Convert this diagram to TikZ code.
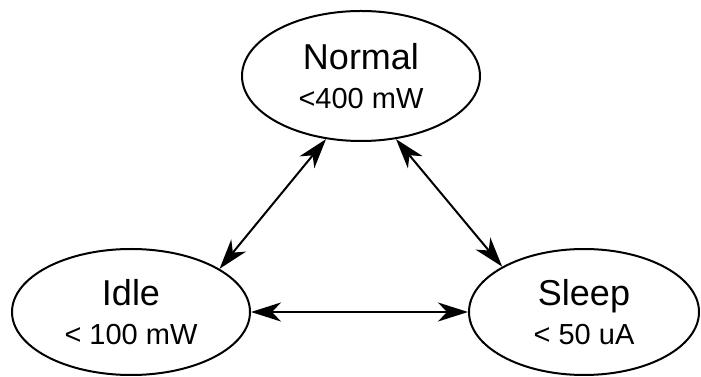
\documentclass[tikz,border=0pt]{standalone}
\usepackage{fontspec}
\setmainfont{Liberation Sans}
\usetikzlibrary{arrows.meta,shapes.geometric}

\newcommand{\modename}[1]{{\fontsize{36}{39}\selectfont #1}}

\begin{document}
\begin{tikzpicture}[x=1pt,y=1pt,
    mode/.style={draw,ellipse,line width=2pt,inner sep=0pt,align=center,
      font=\fontsize{29}{39}\selectfont},
    link/.style={line width=2pt,{Stealth[length=30pt,width=19pt,inset=9pt]}-{Stealth[length=30pt,width=19pt,inset=9pt]}}]
    \useasboundingbox (0,0) rectangle (701,377);
    \node (normal) at (361,301) [mode,minimum width=238pt,minimum height=130pt]
      {\modename{Normal}\\<400 mW};
    \node (idle) at (131,65) [mode,minimum width=238pt,minimum height=126pt]
      {\modename{Idle}\\< 100 mW};
    \node (sleep) at (584,65) [mode,minimum width=230pt,minimum height=126pt]
      {\modename{Sleep}\\< 50 uA};
    \draw [link] (idle.26) -- (normal.241);
    \draw [link] (normal.299) -- (sleep.151);
    \draw [link] (idle.east) -- (sleep.west);
  \end{tikzpicture}
\end{document}
